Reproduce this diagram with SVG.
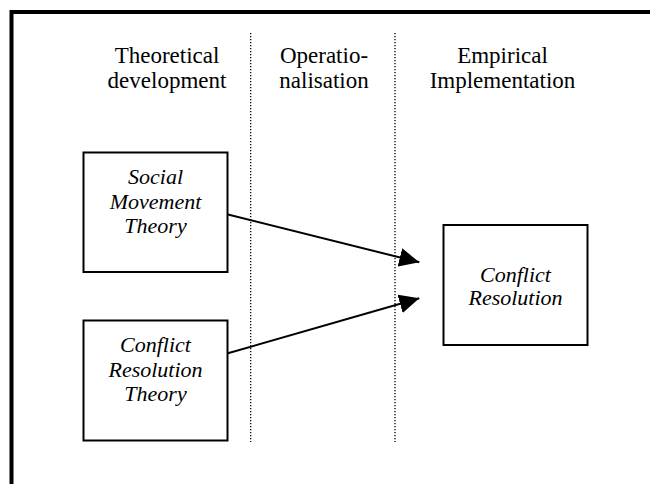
<svg xmlns="http://www.w3.org/2000/svg" width="650" height="484" viewBox="0 0 650 484">
<style>
.hdr{font-family:"Liberation Serif","Times New Roman",serif;font-size:23px;fill:#000;text-anchor:middle}
.lbl{font-family:"Liberation Serif","Times New Roman",serif;font-size:22px;font-style:italic;fill:#000;text-anchor:middle}
.box{fill:#fff;stroke:#000;stroke-width:2}
.sep{stroke:#000;stroke-width:1.3;stroke-dasharray:1.3 1.7;fill:none}
.conn{stroke:#000;stroke-width:2;fill:none}
</style>
<defs>
<marker id="ah" markerUnits="userSpaceOnUse" viewBox="0 0 20 19" refX="20" refY="9.5" markerWidth="20" markerHeight="19" orient="auto">
<path d="M0,0 L20,9.5 L0,19 Z" fill="#000"/>
</marker>
</defs>
<rect width="650" height="484" fill="#fff"/>
<rect x="11.5" y="12" width="700" height="600" fill="none" stroke="#000" stroke-width="4"/>
<g id="columns">
<line class="sep" x1="250.7" y1="33" x2="250.7" y2="442"/>
<line class="sep" x1="395" y1="33" x2="395" y2="442"/>
<text class="hdr" x="167" y="63">Theoretical</text>
<text class="hdr" x="167" y="88">development</text>
<text class="hdr" x="324" y="63">Operatio-</text>
<text class="hdr" x="324" y="88">nalisation</text>
<text class="hdr" x="502.5" y="63">Empirical</text>
<text class="hdr" x="502.5" y="88">Implementation</text>
</g>
<g id="connectors">
<line class="conn" x1="227" y1="214.3" x2="419.3" y2="262.3" marker-end="url(#ah)"/>
<line class="conn" x1="227" y1="353.5" x2="419.3" y2="298.3" marker-end="url(#ah)"/>
</g>
<g id="node-smt">
<rect class="box" x="83.5" y="152.5" width="144" height="119.5"/>
<text class="lbl" x="155.5" y="183.5">Social</text>
<text class="lbl" x="155.5" y="209">Movement</text>
<text class="lbl" x="155.5" y="233">Theory</text>
</g>
<g id="node-crt">
<rect class="box" x="83.5" y="320.5" width="144" height="120"/>
<text class="lbl" x="155.5" y="351.5">Conflict</text>
<text class="lbl" x="155.5" y="376.5">Resolution</text>
<text class="lbl" x="155.5" y="400.5">Theory</text>
</g>
<g id="node-cr">
<rect class="box" x="443.5" y="225" width="144" height="120"/>
<text class="lbl" x="515.5" y="281.5">Conflict</text>
<text class="lbl" x="515.5" y="305">Resolution</text>
</g>
</svg>
